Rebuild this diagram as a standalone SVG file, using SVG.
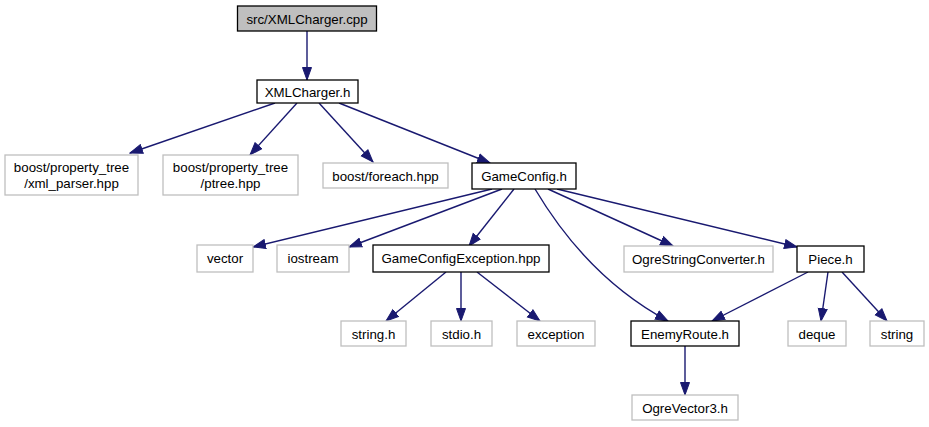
<svg xmlns="http://www.w3.org/2000/svg" width="929" height="427" viewBox="0 0 929 427">
<style>
.ext rect{fill:#fff;stroke:#bfbfbf;stroke-width:1.3}
.int rect{fill:#fff;stroke:#000;stroke-width:1.3}
.root rect{fill:#bfbfbf;stroke:#000;stroke-width:1.3}
text{font-family:"Liberation Sans",Arial,sans-serif;font-size:13.3px;fill:#000;text-anchor:middle}
#edges path{fill:none;stroke:#191970;stroke-width:1.4;marker-end:url(#ah)}
</style>
<defs>
<marker id="ah" markerUnits="userSpaceOnUse" markerWidth="14" markerHeight="12" refX="13" refY="6" orient="auto">
<path d="M0.5,1.5 L13,6 L0.5,10.5 Z" fill="#191970" stroke="#191970" stroke-width="1"/>
</marker>
</defs>
<rect width="929" height="427" fill="#fff"/>
<g id="edges">
<path d="M307,31 L307,80"/>
<path d="M275,103 L130,153"/>
<path d="M297,103 L250,155"/>
<path d="M319,103 L373,162"/>
<path d="M339,103 L490,163"/>
<path d="M492,189 L253,247"/>
<path d="M502,189 L349,247"/>
<path d="M514,189 L469,246"/>
<path d="M535,189 Q588,278 668,321"/>
<path d="M548,189 L673,246"/>
<path d="M557,189 L797,247"/>
<path d="M446,272 L386,321"/>
<path d="M461,272 L461,321"/>
<path d="M477,272 L540,321"/>
<path d="M808,272 L712,321"/>
<path d="M828,272 L821,321"/>
<path d="M842,272 L887,321"/>
<path d="M685,346 L685,395"/>
</g>
<g id="n_cpp" class="root"><rect x="237.5" y="6" width="139" height="25"/><text x="307" y="23.5">src/XMLCharger.cpp</text></g>
<g id="n_xmlcharger" class="int"><rect x="257" y="80" width="101" height="23"/><text x="307.5" y="96.5">XMLCharger.h</text></g>
<g id="n_xmlparser" class="ext"><rect x="5" y="155" width="133" height="40"/><text x="71.5" y="172">boost/property_tree</text><text x="71.5" y="188">/xml_parser.hpp</text></g>
<g id="n_ptree" class="ext"><rect x="163" y="155" width="135" height="40"/><text x="230.5" y="172">boost/property_tree</text><text x="230.5" y="188">/ptree.hpp</text></g>
<g id="n_foreach" class="ext"><rect x="323" y="163" width="125" height="25"/><text x="385.5" y="180.5">boost/foreach.hpp</text></g>
<g id="n_gameconfig" class="int"><rect x="472" y="163" width="104" height="26"/><text x="524" y="181">GameConfig.h</text></g>
<g id="n_vector" class="ext"><rect x="197" y="245" width="56" height="27"/><text x="225" y="263">vector</text></g>
<g id="n_iostream" class="ext"><rect x="277" y="245" width="72" height="27"/><text x="313" y="263">iostream</text></g>
<g id="n_gce" class="int"><rect x="373" y="245" width="176" height="27"/><text x="461" y="263">GameConfigException.hpp</text></g>
<g id="n_osc" class="ext"><rect x="624" y="246" width="149" height="26"/><text x="698.5" y="263.5">OgreStringConverter.h</text></g>
<g id="n_piece" class="int"><rect x="797" y="246" width="67" height="26"/><text x="830.5" y="263.5">Piece.h</text></g>
<g id="n_stringh" class="ext"><rect x="341" y="321" width="65" height="25"/><text x="373.5" y="338.5">string.h</text></g>
<g id="n_stdio" class="ext"><rect x="431" y="321" width="61" height="25"/><text x="461.5" y="338.5">stdio.h</text></g>
<g id="n_exception" class="ext"><rect x="517" y="321" width="78" height="25"/><text x="556" y="338.5">exception</text></g>
<g id="n_enemy" class="int"><rect x="631" y="321" width="108" height="25"/><text x="685" y="338.5">EnemyRoute.h</text></g>
<g id="n_deque" class="ext"><rect x="788" y="321" width="58" height="25"/><text x="817" y="338.5">deque</text></g>
<g id="n_string" class="ext"><rect x="870" y="321" width="54" height="25"/><text x="897" y="338.5">string</text></g>
<g id="n_ov3" class="ext"><rect x="632" y="395" width="106" height="25"/><text x="685" y="412.5">OgreVector3.h</text></g>
</svg>
